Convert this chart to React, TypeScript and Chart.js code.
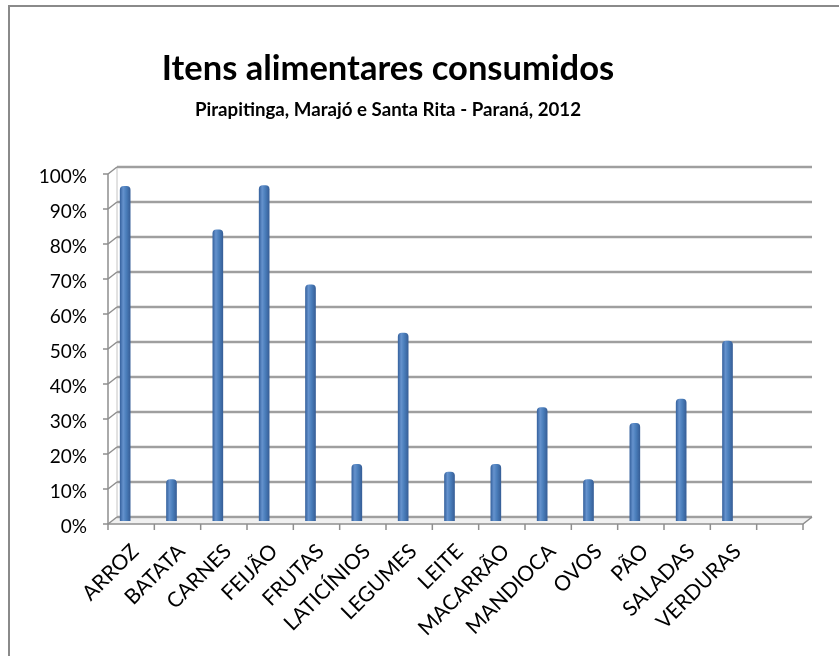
import { useEffect, useRef } from 'react';
import { Chart, registerables } from 'chart.js';

Chart.register(...registerables);

const TITLE = 'Itens alimentares consumidos';
const SUBTITLE = 'Pirapitinga, Marajó e Santa Rita - Paraná, 2012';

// Food items; the last slot is an empty category, as in the original sheet
const categories = [
  'ARROZ', 'BATATA', 'CARNES', 'FEIJÃO', 'FRUTAS', 'LATICÍNIOS', 'LEGUMES',
  'LEITE', 'MACARRÃO', 'MANDIOCA', 'OVOS', 'PÃO', 'SALADAS', 'VERDURAS', '',
];

// Share of households consuming each item (0..1)
const shares = [
  0.956, 0.118, 0.832, 0.958, 0.675, 0.162, 0.537,
  0.140, 0.162, 0.324, 0.118, 0.279, 0.348, 0.514, null,
];

const yTickValues = [0, 0.1, 0.2, 0.3, 0.4, 0.5, 0.6, 0.7, 0.8, 0.9, 1];

const FONT = 'Lato, "Open Sans", sans-serif';
const W = 839;
const H = 656;

// pseudo-3D depth: front face and back wall relative to the bar plane
const FRONT = { dx: 6, dy: 3 };
const BACK = { dx: 15, dy: -4 };

const frame3d = {
  id: 'frame3d',
  beforeDraw(chart: any) {
    const { ctx } = chart;
    ctx.save();
    ctx.fillStyle = '#ffffff';
    ctx.fillRect(0, 0, W, H);
    // outer chart border
    ctx.strokeStyle = '#8a8a8a';
    ctx.lineWidth = 2;
    ctx.beginPath();
    ctx.moveTo(9, H);
    ctx.lineTo(9, 6);
    ctx.lineTo(W, 6);
    ctx.stroke();
    // titles
    ctx.fillStyle = '#000';
    ctx.textAlign = 'center';
    ctx.textBaseline = 'alphabetic';
    ctx.font = `bold 34.5px ${FONT}`;
    ctx.fillText(TITLE, 388, 80);
    ctx.font = `bold 18.7px ${FONT}`;
    ctx.fillText(SUBTITLE, 388, 116);
    ctx.restore();
  },
  beforeDatasetsDraw(chart: any) {
    const { ctx, chartArea: a, scales } = chart;
    const ys = scales.y;
    const xs = scales.x;
    const fL = a.left + FRONT.dx;
    const fR = a.right + FRONT.dx;
    const bL = a.left + BACK.dx;
    const bR = a.right + BACK.dx;
    const f0 = ys.getPixelForValue(0) + FRONT.dy;
    const b0 = ys.getPixelForValue(0) + BACK.dy;
    const f1 = ys.getPixelForValue(1) + FRONT.dy;
    ctx.save();

    // floor
    ctx.fillStyle = '#f0f0f0';
    ctx.beginPath();
    ctx.moveTo(fL, f0);
    ctx.lineTo(fR, f0);
    ctx.lineTo(bR, b0);
    ctx.lineTo(bL, b0);
    ctx.closePath();
    ctx.fill();

    // back wall left edge
    ctx.strokeStyle = '#c4c4c4';
    ctx.lineWidth = 1;
    ctx.beginPath();
    ctx.moveTo(bL, ys.getPixelForValue(1) + BACK.dy);
    ctx.lineTo(bL, b0);
    ctx.stroke();

    // gridlines on the back wall + connectors to the front axis
    for (const v of yTickValues) {
      const yb = ys.getPixelForValue(v) + BACK.dy;
      const yf = ys.getPixelForValue(v) + FRONT.dy;
      ctx.strokeStyle = '#d2d2d2';
      ctx.lineWidth = 3;
      ctx.beginPath();
      ctx.moveTo(bL, yb);
      ctx.lineTo(bR, yb);
      ctx.stroke();
      ctx.strokeStyle = '#8e8e8e';
      ctx.lineWidth = 1.5;
      ctx.beginPath();
      ctx.moveTo(bL, yb);
      ctx.lineTo(bR, yb);
      ctx.stroke();
      ctx.beginPath();
      ctx.moveTo(fL, yf);
      ctx.lineTo(bL, yb);
      ctx.stroke();
      // tick mark
      ctx.beginPath();
      ctx.moveTo(fL - 5, yf);
      ctx.lineTo(fL, yf);
      ctx.stroke();
    }

    // front vertical axis
    ctx.strokeStyle = '#8e8e8e';
    ctx.lineWidth = 1.5;
    ctx.beginPath();
    ctx.moveTo(fL, f1);
    ctx.lineTo(fL, f0);
    ctx.stroke();

    // front horizontal axis and right floor edge
    ctx.beginPath();
    ctx.moveTo(fL, f0);
    ctx.lineTo(fR, f0);
    ctx.lineTo(bR, b0);
    ctx.stroke();

    // category boundary ticks
    for (let i = 0; i <= categories.length; i++) {
      const x = xs.getPixelForValue(i - 0.5) + FRONT.dx;
      ctx.beginPath();
      ctx.moveTo(x, f0);
      ctx.lineTo(x, f0 + 6);
      ctx.stroke();
    }
    ctx.restore();
  },
};

function barFill(c: any) {
  const chart = c.chart;
  const xs = chart.scales?.x;
  if (!xs || c.dataIndex === undefined) return '#4a7ebb';
  const x = xs.getPixelForValue(c.dataIndex);
  if (!Number.isFinite(x)) return '#4a7ebb';
  const g = chart.ctx.createLinearGradient(x - 5, 0, x + 5, 0);
  g.addColorStop(0, '#3864a0');
  g.addColorStop(0.3, '#6592cd');
  g.addColorStop(0.6, '#4a7ebb');
  g.addColorStop(1, '#375f98');
  return g;
}

export default function App() {
  const ref = useRef<HTMLCanvasElement>(null);

  useEffect(() => {
    if (!ref.current) return;
    const chart = new Chart(ref.current, {
      type: 'bar',
      data: {
        labels: categories,
        datasets: [
          {
            data: shares,
            backgroundColor: barFill,
            borderWidth: 0,
            borderRadius: 4,
            borderSkipped: 'start',
            barThickness: 10,
          },
        ],
      },
      options: {
        responsive: false,
        animation: false,
        devicePixelRatio: 1,
        layout: { padding: { top: 171, left: 0, right: 42, bottom: 0 } },
        plugins: {
          legend: { display: false },
          title: { display: false },
          tooltip: { enabled: false },
        },
        scales: {
          x: {
            grid: { display: false, drawTicks: false },
            border: { display: false },
            afterFit: (s: any) => {
              s.height = 135;
            },
            ticks: {
              autoSkip: false,
              maxRotation: 45,
              minRotation: 45,
              padding: 18,
              labelOffset: 10,
              color: '#000',
              font: { family: FONT, size: 21 },
            },
          },
          y: {
            min: 0,
            max: 1,
            grid: { display: false, drawTicks: false },
            border: { display: false },
            afterFit: (s: any) => {
              s.width = 102;
            },
            afterBuildTicks: (s: any) => {
              s.ticks = yTickValues.map((v) => ({ value: v }));
            },
            ticks: {
              padding: 15,
              labelOffset: 6,
              color: '#000',
              font: { family: FONT, size: 19 },
              callback: (v: any) => `${Math.round(Number(v) * 100)}%`,
            },
          },
        },
      },
      plugins: [frame3d],
    });
    return () => chart.destroy();
  }, []);

  return (
    <div style={{ position: 'absolute', left: 0, top: 0, width: W, height: H }}>
      <canvas ref={ref} width={W} height={H} />
    </div>
  );
}
